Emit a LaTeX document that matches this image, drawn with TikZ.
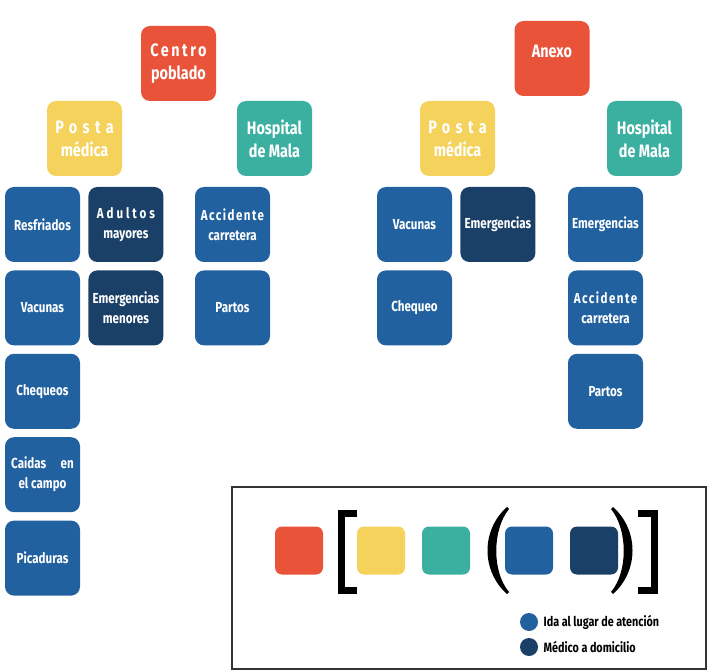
\documentclass[tikz,border=0pt]{standalone}
\usepackage{fontspec}
\setmainfont[FakeStretch=0.8]{Fira Sans}
\usetikzlibrary{positioning}
\definecolor{tred}{HTML}{E8533A}
\definecolor{tyellow}{HTML}{F4D25C}
\definecolor{tteal}{HTML}{3BB0A1}
\definecolor{tblue}{HTML}{22619F}
\definecolor{tdark}{HTML}{1B4068}
\newcommand{\gap}{8pt}
\newcommand{\spaced}[2][20]{{\addfontfeature{LetterSpace=#1}#2}}

\tikzset{
  tile/.style={rounded corners=9pt, minimum width=75pt, minimum height=75pt, inner sep=1pt,
    align=center, text=white, font=\bfseries\fontsize{14.5}{20}\selectfont},
  head/.style={tile, font=\bfseries\fontsize{18}{23}\selectfont},
  key/.style={rounded corners=7pt, minimum width=48pt, minimum height=48pt},
  dot/.style={circle, minimum size=18pt, inner sep=0pt},
  note/.style={anchor=west, font=\bfseries\fontsize{13.5}{15}\selectfont},
  brk/.style={line width=7pt}
}

\begin{document}
\begin{tikzpicture}[x=1pt, y=-1pt]
        \useasboundingbox (0,0) rectangle (707,671);
        % left tree
        \node[head, fill=tred] (centro) at (178.5,63.5) {\spaced[14]{Centro}\\poblado};
        \node[head, fill=tyellow] (postaL) at (84.5,138.5) {\spaced[30]{Posta}\\médica};
        \node[head, fill=tteal] (hospL) at (274.5,138.5) {Hospital\\de Mala};
        \node[tile, fill=tblue] (resfriados) at (42.5,224.5) {Resfriados};
        \node[tile, fill=tdark, right=\gap of resfriados] (adultos) {\spaced{Adultos}\\mayores};
        \node[tile, fill=tblue, below=\gap of resfriados] (vacunasL) {Vacunas};
        \node[tile, fill=tdark, below=\gap of adultos] (emerMenores) {Emergencias\\menores};
        \node[tile, fill=tblue, below=\gap of vacunasL] (chequeos) {Chequeos};
        \node[tile, fill=tblue, below=\gap of chequeos] (caidas) {Caidas\quad en\\el campo};
        \node[tile, fill=tblue, below=\gap of caidas] (picaduras) {Picaduras};
        \node[tile, fill=tblue] (accidenteL) at (232.5,224.5) {\spaced[10]{Accidente}\\carretera};
        \node[tile, fill=tblue, below=\gap of accidenteL] (partosL) {Partos};
        % right tree
        \node[head, fill=tred, text depth=14pt] (anexo) at (552,58.5) {Anexo};
        \node[head, fill=tyellow] (postaR) at (457.5,138.5) {\spaced[30]{Posta}\\médica};
        \node[head, fill=tteal] (hospR) at (644.5,138.5) {Hospital\\de Mala};
        \node[tile, fill=tblue] (vacunasR) at (414.5,224.5) {Vacunas};
        \node[tile, fill=tdark, right=\gap of vacunasR] (emerPosta) {Emergencias};
        \node[tile, fill=tblue, below=\gap of vacunasR] (chequeo) {Chequeo};
        \node[tile, fill=tblue] (emerHosp) at (605.5,224.5) {Emergencias};
        \node[tile, fill=tblue, below=\gap of emerHosp] (accidenteR) {\spaced[10]{Accidente}\\carretera};
        \node[tile, fill=tblue, below=\gap of accidenteR] (partosR) {Partos};
        % legend
        \draw[line width=1.5pt, black!80] (232,487) rectangle (706,669);
        \node[key, fill=tred] (keyRed) at (299,550.5) {};
        \node[key, fill=tyellow] (keyYellow) at (381,550.5) {};
        \node[key, fill=tteal] (keyTeal) at (446,550.5) {};
        \node[key, fill=tblue] (keyBlue) at (529,550.5) {};
        \node[key, fill=tdark] (keyDark) at (594,550.5) {};
        \draw[brk] (357,513) -| (341,590) -- (357,590);
        \draw[brk] (638,513) -| (654,590) -- (638,590);
        \fill (507,507) .. controls (481,530) and (481,571) .. (507,594) -- (509,592)
          .. controls (492,572) and (492,530) .. (509,509) -- cycle;
        \fill (613,507) .. controls (639,530) and (639,571) .. (613,594) -- (611,592)
          .. controls (628,572) and (628,530) .. (611,509) -- cycle;
        \node[dot, fill=tblue] (dotIda) at (529,622) {};
        \node[note, right=2pt of dotIda] (ida) {Ida al lugar de atención};
        \node[dot, fill=tdark] (dotMedico) at (529,647) {};
        \node[note, right=2pt of dotMedico] (medico) {Médico a domicilio};
    \end{tikzpicture}
\end{document}
